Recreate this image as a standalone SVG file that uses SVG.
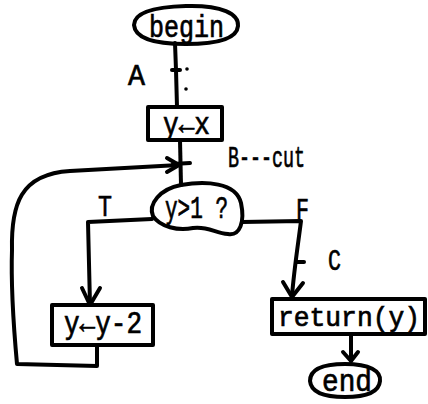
<svg xmlns="http://www.w3.org/2000/svg" width="428" height="404" viewBox="0 0 428 404">
<style>
.s{fill:none;stroke:#000;stroke-width:4;stroke-linecap:round;stroke-linejoin:round}
.t{font-family:"Liberation Mono","DejaVu Sans Mono",monospace;fill:#000;stroke:#000;stroke-width:0.7;font-size:31px}
.l{font-size:30px}
.r{font-size:27px}
</style>
<rect width="428" height="404" fill="#fff"/>
<g id="connectors">
<path class="s" d="M175 43 L176 70 L177 107"/>
<path class="s" d="M172 70 L180 70"/>
<circle cx="187" cy="69" r="1.8" fill="#000"/>
<circle cx="186" cy="89" r="1.8" fill="#000"/>
<path class="s" d="M180 140 L181 185"/>
<path class="s" d="M173 164 L190 163"/>
<path class="s" d="M97 345 L97 366 L17 364 C13 320 11 280 12 250 C11 205 20 174 70 171 L179 165"/>
<path class="s" d="M167 158 L179 165 L167 172"/>
<path class="s" d="M152 219 L88 222 L90 305"/>
<path class="s" d="M82 288 L90 305 L100 288"/>
<path class="s" d="M242 222 L301 221 C298 245 294 270 292 296"/>
<path class="s" d="M296 262 L304 262"/>
<path class="s" d="M283 282 L292 297 L303 283"/>
<path class="s" d="M351 334 L351 361"/>
<path class="s" d="M343 352 L351 361 L358 352"/>
</g>
<g id="begin">
<path class="s" d="M186 6 C222 5 239 14 238 26 C237 38 220 44 186 44 C152 44 135 38 134 25 C134 13 152 7 186 6 Z"/>
<text class="t" x="149" y="37" textLength="75" lengthAdjust="spacingAndGlyphs">begin</text>
</g>
<text class="t l" x="128" y="85" textLength="17" lengthAdjust="spacingAndGlyphs">A</text>
<g id="assign">
<rect class="s" x="148" y="107" width="74" height="33"/>
<text class="t" x="163" y="134" textLength="47" lengthAdjust="spacingAndGlyphs">y←x</text>
</g>
<text class="t l" x="228" y="167" textLength="77" lengthAdjust="spacingAndGlyphs">B---cut</text>
<g id="decision">
<path class="s" d="M181 185 C205 181 236 182 241 203 C245 222 240 236 228 234 C215 233 208 226 193 228 C178 231 160 227 153 216 C148 204 160 189 181 185 Z"/>
<text class="t" x="165" y="218" textLength="63" lengthAdjust="spacingAndGlyphs">y&gt;1 ?</text>
</g>
<text class="t l" x="98" y="216" textLength="14" lengthAdjust="spacingAndGlyphs">T</text>
<text class="t l" x="296" y="219" textLength="13" lengthAdjust="spacingAndGlyphs">F</text>
<text class="t l" x="328" y="270" textLength="13" lengthAdjust="spacingAndGlyphs">C</text>
<g id="decrement">
<rect class="s" x="52" y="305" width="101" height="40"/>
<text class="t" x="64" y="333" textLength="78" lengthAdjust="spacingAndGlyphs">y←y-2</text>
</g>
<g id="return">
<rect class="s" x="272" y="299" width="153" height="35"/>
<text class="t r" x="278" y="326" textLength="142" lengthAdjust="spacingAndGlyphs">return(y)</text>
</g>
<g id="end">
<path class="s" d="M345 364 C370 364 381 371 380 381 C379 392 368 397 345 397 C322 397 311 392 310 381 C310 370 321 364 345 364 Z"/>
<text class="t" x="322" y="391" textLength="50" lengthAdjust="spacingAndGlyphs">end</text>
</g>
</svg>
